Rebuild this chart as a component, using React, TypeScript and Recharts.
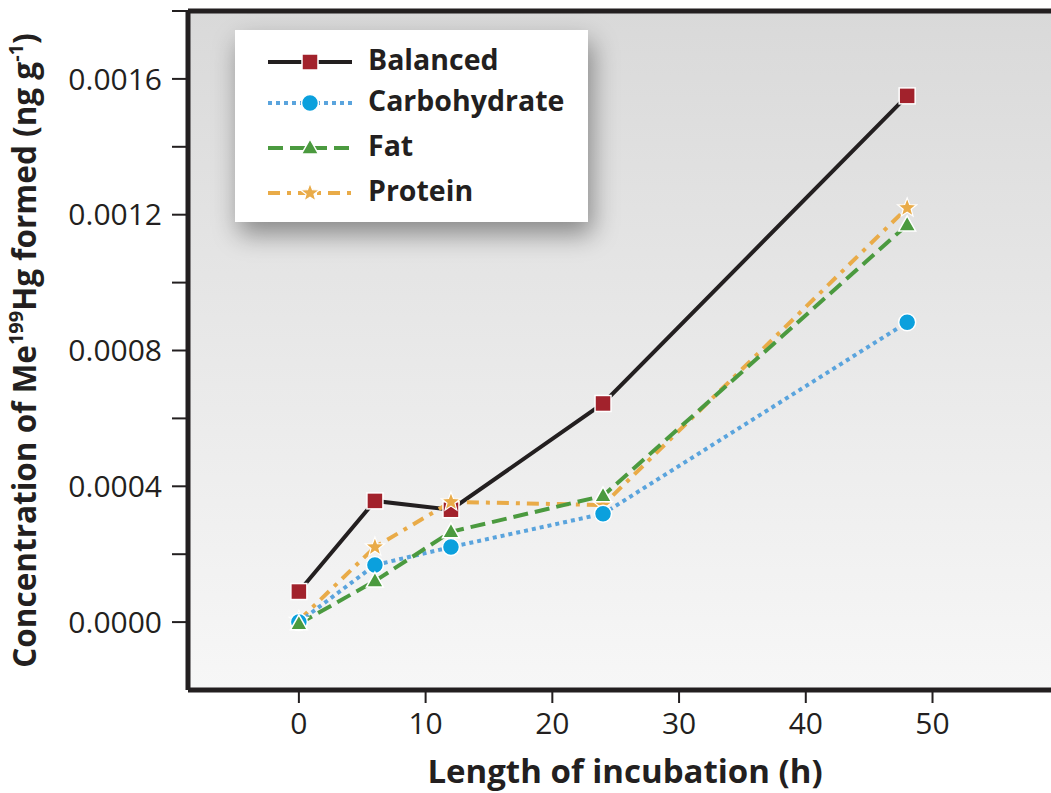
import React from "react";
import {
  LineChart,
  Line,
  XAxis,
  YAxis,
  CartesianGrid,
  ReferenceLine,
} from "recharts";

const hours = [0, 6, 12, 24, 48];
const balanced = [0.00009, 0.000357, 0.000331, 0.000644, 0.00155];
const carbohydrate = [0.0, 0.000168, 0.000221, 0.000319, 0.000883];
const fat = [-0.000005, 0.000121, 0.000266, 0.000372, 0.00117];
const protein = [0.000005, 0.000221, 0.000354, 0.000345, 0.00122];

const xTicks = [0, 10, 20, 30, 40, 50];
const yTicks = [0, 0.0002, 0.0004, 0.0006, 0.0008, 0.001, 0.0012, 0.0014, 0.0016, 0.0018];

const FONT = "'Open Sans', sans-serif";
const INK = "#231f20";

const data = hours.map((h, i) => ({
  hour: h,
  balanced: balanced[i],
  carbohydrate: carbohydrate[i],
  fat: fat[i],
  protein: protein[i],
}));

type Marker = "square" | "circle" | "triangle" | "star";

const series: {
  key: string;
  name: string;
  stroke: string;
  fill: string;
  dash?: string;
  marker: Marker;
}[] = [
  { key: "balanced", name: "Balanced", stroke: INK, fill: "#a2222c", marker: "square" },
  { key: "carbohydrate", name: "Carbohydrate", stroke: "#5aa4dd", fill: "#0ba0dd", dash: "4 4", marker: "circle" },
  { key: "fat", name: "Fat", stroke: "#4b9a3f", fill: "#4b9a3f", dash: "15 7", marker: "triangle" },
  { key: "protein", name: "Protein", stroke: "#e9ab48", fill: "#e9ab48", dash: "12 7 4 7", marker: "star" },
];

// draw order in the picture: fat on top, then carbohydrate, protein, balanced
const drawOrder = ["balanced", "protein", "carbohydrate", "fat"];

function markerShape(marker: Marker, cx: number, cy: number, fill: string, key?: string) {
  if (marker === "square") {
    return <rect key={key} x={cx - 8} y={cy - 8} width={16} height={16} fill={fill} stroke="#fff" strokeWidth={1.5} />;
  }
  if (marker === "circle") {
    return <circle key={key} cx={cx} cy={cy} r={8.5} fill={fill} stroke="#fff" strokeWidth={1.5} />;
  }
  if (marker === "triangle") {
    const p = `${cx},${cy - 9} ${cx + 8.5},${cy + 6} ${cx - 8.5},${cy + 6}`;
    return <polygon key={key} points={p} fill={fill} stroke="#fff" strokeWidth={1.5} />;
  }
  const pts: string[] = [];
  for (let i = 0; i < 10; i++) {
    const r = i % 2 === 0 ? 10 : 4.2;
    const a = -Math.PI / 2 + (i * Math.PI) / 5;
    pts.push(`${cx + r * Math.cos(a)},${cy + r * Math.sin(a)}`);
  }
  return <polygon key={key} points={pts.join(" ")} fill={fill} stroke="#fff" strokeWidth={1.2} />;
}

function yTickLabel(v: number) {
  const step = Math.round(v / 0.0002);
  return step % 2 === 0 ? v.toFixed(4) : "";
}

function YTitle(props: any) {
  const vb = props.viewBox || {};
  const cy = (vb.y ?? 0) + (vb.height ?? 0) / 2;
  const cx = 36;
  return (
    <text
      x={cx}
      y={cy}
      transform={`rotate(-90 ${cx} ${cy})`}
      textAnchor="middle"
      fontFamily={FONT}
      fontWeight={700}
      fontSize={31.5}
      fill={INK}
    >
      Concentration of Me
      <tspan dy={-13} fontSize={20}>199</tspan>
      <tspan dy={13}>Hg formed (ng g</tspan>
      <tspan dy={-13} fontSize={20}>-1</tspan>
      <tspan dy={13}>)</tspan>
    </text>
  );
}

function XTitle(props: any) {
  const vb = props.viewBox || {};
  const cx = 625;
  return (
    <text
      x={cx}
      y={(vb.y ?? 0) + 93}
      textAnchor="middle"
      fontFamily={FONT}
      fontWeight={700}
      fontSize={33}
      fill={INK}
    >
      Length of incubation (h)
    </text>
  );
}

function LegendBox() {
  const rowY = [32, 73, 118, 163];
  return (
    <div
      style={{
        position: "absolute",
        left: 235,
        top: 30,
        width: 353,
        height: 192,
        background: "#fff",
        boxShadow: "4px 12px 24px rgba(0,0,0,0.4)",
      }}
    >
      <svg width={353} height={192}>
        {series.map((s, i) => (
          <g key={s.key}>
            <line
              x1={33}
              x2={117}
              y1={rowY[i]}
              y2={rowY[i]}
              stroke={s.stroke}
              strokeWidth={4}
              strokeDasharray={s.dash}
            />
            {markerShape(s.marker, 75, rowY[i], s.fill)}
            <text
              x={133}
              y={rowY[i] - 3}
              dominantBaseline="central"
              fontFamily={FONT}
              fontWeight={700}
              fontSize={28.5}
              fill={INK}
            >
              {s.name}
            </text>
          </g>
        ))}
      </svg>
    </div>
  );
}

export default function App() {
  const ordered = drawOrder.map((k) => series.find((s) => s.key === k)!);
  return (
    <div style={{ position: "absolute", left: 0, top: 0, width: 1051, height: 793, background: "#fff" }}>
      <LineChart
        width={1051}
        height={793}
        data={data}
        margin={{ top: 11, right: 0, bottom: 0, left: 0 }}
      >
        <defs>
          <linearGradient id="bgGrad" x1="0" y1="0" x2="0" y2="1">
            <stop offset="0%" stopColor="#d9d9d9" />
            <stop offset="55%" stopColor="#eaeaea" />
            <stop offset="100%" stopColor="#f7f7f7" />
          </linearGradient>
        </defs>
        <CartesianGrid horizontal={false} vertical={false} fill="url(#bgGrad)" />
        <XAxis
          dataKey="hour"
          type="number"
          domain={[-8.75, 59.35]}
          allowDataOverflow
          ticks={xTicks}
          height={103}
          tickSize={13}
          tickMargin={10}
          axisLine={{ stroke: INK, strokeWidth: 5 }}
          tickLine={{ stroke: INK, strokeWidth: 2 }}
          tick={{ fill: INK, fontSize: 30, fontFamily: FONT }}
          label={<XTitle />}
        />
        <YAxis
          type="number"
          domain={[-0.0002, 0.0018]}
          allowDataOverflow
          ticks={yTicks}
          interval={0}
          width={188}
          tickSize={16}
          tickMargin={10}
          tickFormatter={yTickLabel}
          axisLine={{ stroke: INK, strokeWidth: 5 }}
          tickLine={{ stroke: INK, strokeWidth: 2 }}
          tick={{ fill: INK, fontSize: 30, fontFamily: FONT }}
          label={<YTitle />}
        />
        <ReferenceLine y={0.0018} stroke={INK} strokeWidth={5} ifOverflow="visible" />
        {ordered.map((s) => (
          <Line
            key={s.key}
            dataKey={s.key}
            type="linear"
            stroke={s.stroke}
            strokeWidth={4}
            strokeDasharray={s.dash}
            isAnimationActive={false}
            dot={(p: any) => markerShape(s.marker, p.cx, p.cy, s.fill, `${s.key}-${p.index}`)}
            activeDot={false}
          />
        ))}
      </LineChart>
      <LegendBox />
    </div>
  );
}
